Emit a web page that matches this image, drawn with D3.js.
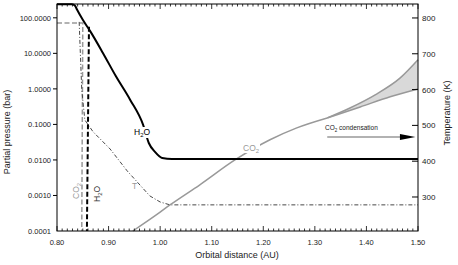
<!DOCTYPE html>
<html>
<head>
<meta charset="utf-8">
<script src="https://cdn.jsdelivr.net/npm/d3@7.9.0/dist/d3.min.js"></script>
<style>
  body { margin: 0; background: #fff; }
  svg { font-family: "Liberation Sans", Arial, sans-serif; }
</style>
</head>
<body>
<svg id="chart" width="458" height="265"></svg>
<script>
// H2O partial pressure (bar)
const h2oAU = [0.80, 0.829, 0.835, 0.839, 0.850, 0.864, 0.889, 0.914, 0.942, 0.967, 0.978, 0.990, 1.004, 1.023, 1.50];
const h2oP  = [240, 240, 218, 168, 88, 43, 10.3, 2.3, 0.49, 0.097, 0.030, 0.0168, 0.0114, 0.0107, 0.0107];

// temperature (K)
const tempAU = [0.843, 0.845, 0.848, 0.854, 0.870, 0.903, 0.936, 0.980, 1.000, 1.019, 1.50];
const tempK  = [789, 711, 599, 515, 482, 434, 373, 303, 286, 278, 278];

// CO2 partial pressure (bar), splits into a range past 1.32 AU
const co2AU = [0.947, 1.000, 1.019, 1.077, 1.145, 1.213, 1.265, 1.324];
const co2P  = [1e-4, 3.4e-4, 5.4e-4, 2.0e-3, 0.010, 0.037, 0.080, 0.152];
const co2HiAU = [1.324, 1.368, 1.417, 1.465, 1.50];
const co2HiP  = [0.152, 0.29, 0.68, 2.0, 6.6];
const co2LoAU = [1.324, 1.388, 1.446, 1.50];
const co2LoP  = [0.152, 0.31, 0.60, 1.0];

// condensation limits (dashed)
const co2CondAU = [0.80, 0.850, 0.848];
const co2CondP  = [72, 72, 1e-4];
const h2oCondAU = [0.862, 0.858];
const h2oCondP  = [56, 1e-4];

const xTicks = [0.8, 0.9, 1.0, 1.1, 1.2, 1.3, 1.4, 1.5];
const pTicks = [1e-4, 1e-3, 1e-2, 1e-1, 1, 10, 100];
const tTicks = [300, 400, 500, 600, 700, 800];

const svg = d3.select('#chart');
const mL = 57, mR = 418, mT = 4, mB = 231;
const ink = '#222';

const x = d3.scaleLinear().domain([0.8, 1.5]).range([mL, mR]);
const y = d3.scaleLog().domain([1e-4, 245]).range([mB, mT]);
const yT = d3.scaleLinear().domain([205, 839]).range([mB, mT]);

const zip = (a, b) => a.map((v, i) => [v, b[i]]);
const lineP = d3.line().x(d => x(d[0])).y(d => y(d[1])).curve(d3.curveMonotoneX);
const lineT = d3.line().x(d => x(d[0])).y(d => yT(d[1]));

// shaded CO2 range
const hi = d3.scaleLinear().domain(co2HiAU).range(co2HiP.map(Math.log10));
const lo = d3.scaleLinear().domain(co2LoAU).range(co2LoP.map(Math.log10));
const band = d3.range(1.324, 1.5001, 0.004);
svg.append('path')
  .attr('d', d3.area()
    .x(d => x(d))
    .y0(d => y(10 ** lo(d)))
    .y1(d => y(10 ** hi(d)))
    .curve(d3.curveMonotoneX)(band))
  .attr('fill', '#d9d9d9');

// condensation lines
svg.append('path')
  .attr('d', d3.line().x(d => x(d[0])).y(d => y(d[1]))(zip(co2CondAU, co2CondP)))
  .attr('fill', 'none').attr('stroke', '#999').attr('stroke-width', 1.5)
  .attr('stroke-dasharray', '5,2.5');

svg.append('path')
  .attr('d', lineT(zip(tempAU, tempK)))
  .attr('fill', 'none').attr('stroke', '#333').attr('stroke-width', 0.9)
  .attr('stroke-dasharray', '4,2,1,2');

svg.append('path')
  .attr('d', d3.line().x(d => x(d[0])).y(d => y(d[1]))(zip(h2oCondAU, h2oCondP)))
  .attr('fill', 'none').attr('stroke', '#000').attr('stroke-width', 2)
  .attr('stroke-dasharray', '5,2.5');

// CO2 curve
[zip(co2AU, co2P), zip(co2HiAU, co2HiP), zip(co2LoAU, co2LoP)].forEach(pts => {
  svg.append('path')
    .attr('d', lineP(pts))
    .attr('fill', 'none').attr('stroke', '#999').attr('stroke-width', 1.5);
});

// H2O curve
svg.append('path')
  .attr('d', lineP(zip(h2oAU, h2oP)))
  .attr('fill', 'none').attr('stroke', '#000').attr('stroke-width', 2);

// frame
svg.append('rect')
  .attr('x', mL).attr('y', mT)
  .attr('width', mR - mL).attr('height', mB - mT)
  .attr('fill', 'none').attr('stroke', '#000').attr('stroke-width', 1);

// x ticks (inside, top and bottom)
const minor = d3.range(80, 151).map(d => d / 100);
minor.forEach(v => {
  const major = Math.round(v * 100) % 10 === 0;
  const len = major ? 5 : 2.5;
  svg.append('line').attr('x1', x(v)).attr('x2', x(v))
    .attr('y1', mB).attr('y2', mB - len).attr('stroke', '#000').attr('stroke-width', 0.8);
  svg.append('line').attr('x1', x(v)).attr('x2', x(v))
    .attr('y1', mT).attr('y2', mT + len).attr('stroke', '#000').attr('stroke-width', 0.8);
});

svg.append('g').selectAll('text').data(xTicks).join('text')
  .attr('x', d => x(d)).attr('y', 245).attr('fill', ink)
  .attr('text-anchor', 'middle').attr('font-size', 7.5)
  .text(d => d.toFixed(2));

// left axis
svg.append('g').selectAll('line').data(pTicks.slice(1)).join('line')
  .attr('x1', mL - 4).attr('x2', mL)
  .attr('y1', d => y(d)).attr('y2', d => y(d))
  .attr('stroke', '#000').attr('stroke-width', 1);
svg.append('g').selectAll('text').data(pTicks).join('text')
  .attr('x', 51).attr('y', d => y(d) + 2.8).attr('fill', ink)
  .attr('text-anchor', 'end').attr('font-size', 7.5)
  .text(d => d.toFixed(4));

// right axis
svg.append('g').selectAll('line').data(tTicks).join('line')
  .attr('x1', mR - 6).attr('x2', mR)
  .attr('y1', d => yT(d)).attr('y2', d => yT(d))
  .attr('stroke', '#000').attr('stroke-width', 1);
svg.append('g').selectAll('text').data(tTicks).join('text')
  .attr('x', 422).attr('y', d => yT(d) + 3).attr('fill', ink)
  .attr('font-size', 8)
  .text(d => d);

// axis titles
svg.append('text').attr('x', 237).attr('y', 258).attr('fill', ink)
  .attr('text-anchor', 'middle').attr('font-size', 9).text('Orbital distance (AU)');
svg.append('text').attr('transform', 'translate(10,132) rotate(-90)').attr('fill', ink)
  .attr('text-anchor', 'middle').attr('font-size', 9).text('Partial pressure (bar)');
svg.append('text').attr('transform', 'translate(450,113) rotate(-90)').attr('fill', ink)
  .attr('text-anchor', 'middle').attr('font-size', 9).text('Temperature (K)');

// labels on curves
function chem(g, base, sub, tail) {
  g.append('tspan').text(base);
  g.append('tspan').attr('font-size', '70%').attr('dy', 2).text(sub);
  g.append('tspan').attr('dy', -2).text(tail);
}

svg.append('rect').attr('x', 133).attr('y', 127).attr('width', 19).attr('height', 11).attr('fill', '#fff');
chem(svg.append('text').attr('x', 134).attr('y', 135).attr('font-size', 8.5).attr('fill', '#000'), 'H', '2', 'O');

svg.append('rect').attr('x', 242).attr('y', 143).attr('width', 18).attr('height', 10).attr('fill', '#fff');
chem(svg.append('text').attr('x', 243).attr('y', 151).attr('font-size', 8.5).attr('fill', '#999'), 'CO', '2', '');

svg.append('text').attr('x', 132).attr('y', 189).attr('font-size', 8.5).attr('fill', '#999').text('T');

chem(svg.append('text').attr('transform', 'translate(79,199) rotate(-90)')
  .attr('font-size', 8.5).attr('fill', '#999'), 'CO', '2', '');
chem(svg.append('text').attr('transform', 'translate(100,202) rotate(-90)')
  .attr('font-size', 8.5).attr('fill', '#333'), 'H', '2', 'O');

// CO2 condensation arrow
const arrowY = 137;
svg.append('line').attr('x1', x(1.324)).attr('x2', x(1.48))
  .attr('y1', arrowY).attr('y2', arrowY).attr('stroke', '#999').attr('stroke-width', 1.5);
svg.append('path')
  .attr('d', `M${x(1.465)},${arrowY - 3}L${x(1.495)},${arrowY}L${x(1.465)},${arrowY + 3}Z`)
  .attr('fill', '#000');
const condLab = svg.append('text').attr('x', 325).attr('y', 130).attr('font-size', 6.5).attr('fill', ink);
chem(condLab, 'CO', '2', ' condensation');
</script>
</body>
</html>
